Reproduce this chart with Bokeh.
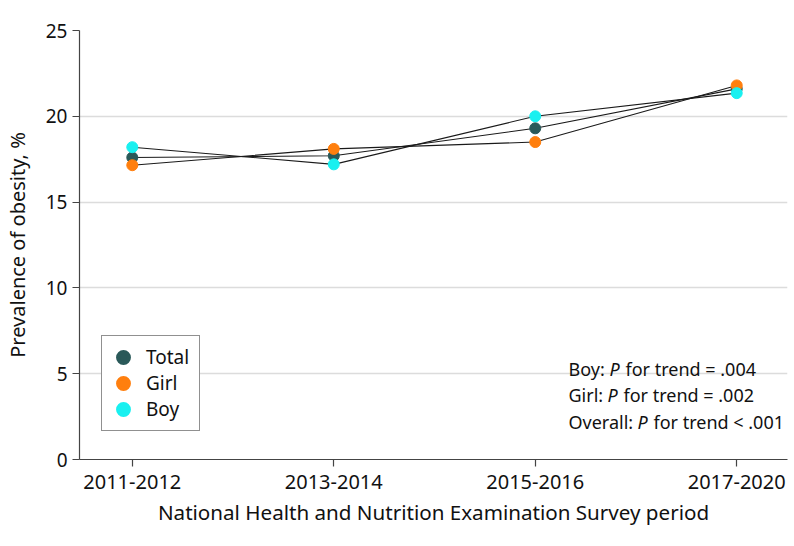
from bokeh.plotting import figure
from bokeh.models import Range1d, ColumnDataSource, Legend, LegendItem, FixedTicker
from bokeh.core.properties import value
from bokeh.embed import file_html
from bokeh.resources import INLINE

periods = ["2011-2012", "2013-2014", "2015-2016", "2017-2020"]
total = [17.6, 17.7, 19.3, 21.6]
girl = [17.15, 18.1, 18.5, 21.8]
boy = [18.2, 17.2, 20.0, 21.35]
series_names = ["Total", "Girl", "Boy"]
series_colors = ["#2a5959", "#ff7f0e", "#19f0f0"]
y_ticks = [0, 5, 10, 15, 20, 25]

ann_prefix = ["Boy:", "Girl:", "Overall:"]
ann_rest = ["for trend = .004", "for trend = .002", "for trend < .001"]
ann_y = [5.3, 3.73, 2.2]

FONT = "Noto Sans"
xs = list(range(len(periods)))

p = figure(width=790, height=544, output_backend="svg", toolbar_location=None,
           x_range=Range1d(-0.262, 3.252), y_range=Range1d(0, 25))
p.min_border_left = 77
p.min_border_right = 3
p.min_border_top = 30
p.min_border_bottom = 85
p.outline_line_color = None
p.background_fill_color = "white"

p.xgrid.grid_line_color = None
p.ygrid.grid_line_color = "#dcdcdc"
p.ygrid.grid_line_width = 1.5
p.yaxis.ticker = FixedTicker(ticks=y_ticks)
p.xaxis.ticker = FixedTicker(ticks=xs)
p.xaxis.major_label_overrides = {i: s for i, s in enumerate(periods)}

for ax in (p.xaxis[0], p.yaxis[0]):
    ax.axis_line_color = "#444444"
    ax.axis_line_width = 1.2
    ax.major_tick_line_color = "#444444"
    ax.major_tick_line_width = 1.2
    ax.major_tick_in = 0
    ax.major_tick_out = 7
    ax.minor_tick_line_color = None
    ax.major_label_text_font = FONT
    ax.major_label_text_color = "#111111"
    ax.axis_label_text_font = FONT
    ax.axis_label_text_font_style = "normal"
    ax.axis_label_text_color = "#111111"

p.xaxis.major_label_text_font_size = "20px"
p.yaxis.major_label_text_font_size = "19px"
p.xaxis.axis_label_text_font_size = "20.6px"
p.yaxis.axis_label_text_font_size = "20px"

p.xaxis.axis_label = "National Health and Nutrition Examination Survey period"
p.yaxis.axis_label = "Prevalence of obesity, %"
p.xaxis.major_label_standoff = 8
p.xaxis.axis_label_standoff = 6
p.yaxis.major_label_standoff = 5
p.yaxis.axis_label_standoff = 12

src = ColumnDataSource(dict(x=xs, total=total, girl=girl, boy=boy))
cols = ["total", "girl", "boy"]
for c in cols:
    p.line("x", c, source=src, line_color="#1a1a1a", line_width=1.1)

legend_renderers = []
for c, name, color in zip(cols, series_names, series_colors):
    p.scatter("x", c, source=src, size=11, fill_color=color, line_color=color)
    lr = p.scatter("x", c, source=src, size=11, fill_color=color, line_color=color,
                   line_width=4.5, visible=False)
    legend_renderers.append(lr)

legend = Legend(items=[LegendItem(label=n, renderers=[r]) for n, r in zip(series_names, legend_renderers)],
                location=(22, 28), orientation="vertical")
legend.glyph_width = 26
legend.glyph_height = 26
legend.spacing = 0
legend.padding = 8
legend.margin = 0
legend.label_standoff = 10
legend.label_width = 45
legend.label_height = 20
legend.label_text_font = FONT
legend.label_text_font_size = "19px"
legend.label_text_color = "#111111"
legend.border_line_color = "#222222"
legend.border_line_width = 1
legend.background_fill_color = "white"
legend.background_fill_alpha = 1
p.add_layout(legend, "center")

xend = p.x_range.end
start_off = -219
p_offsets = [41, 39, 69]
rest_offsets = [57, 55, 85]
for i in range(3):
    p.text(x=[xend], y=[ann_y[i]], text=[ann_prefix[i]], x_offset=start_off,
           text_font=value(FONT), text_font_size="18px", text_color="#111111",
           text_baseline="middle", text_align="left")
    p.text(x=[xend], y=[ann_y[i]], text=["P"], x_offset=start_off + p_offsets[i],
           text_font=value(FONT), text_font_size="18px", text_font_style="italic",
           text_color="#111111", text_baseline="middle", text_align="left")
    p.text(x=[xend], y=[ann_y[i]], text=[ann_rest[i]], x_offset=start_off + rest_offsets[i],
           text_font=value(FONT), text_font_size="18px", text_color="#111111",
           text_baseline="middle", text_align="left")

open("out.html", "w").write(file_html(p, INLINE))
